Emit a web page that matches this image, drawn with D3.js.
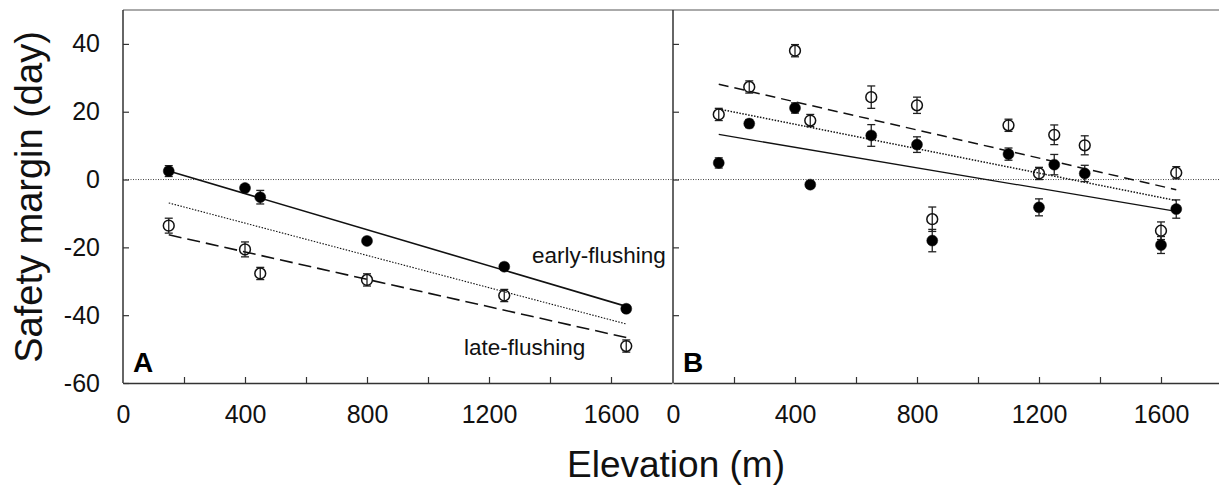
<!DOCTYPE html>
<html><head><meta charset="utf-8">
<script src="https://cdn.jsdelivr.net/npm/d3@7"></script>
<style>
html,body{margin:0;padding:0;background:#fff;}
svg{display:block;font-family:"Liberation Sans",Arial,Helvetica,sans-serif;}
</style></head>
<body>
<svg id="chart" width="1219" height="486"></svg>
<script>
// ---------- data ----------
const yTicks = [-60, -40, -20, 0, 20, 40];
const yTickLabels = ["-60", "-40", "-20", "0", "20", "40"];
const xTicks = [0, 200, 400, 600, 800, 1000, 1200, 1400, 1600];
const xLabelTicks = [0, 400, 800, 1200, 1600];

// Panel A
const elevA = [150, 400, 450, 800, 1250, 1650];
const earlyA = [2.5, -2.5, -5.2, -18.1, -25.7, -38.1];
const earlyAErr = [1.6, 1.0, 2.0, 1.0, 1.0, 1.0];
const lateA = [-13.6, -20.6, -27.7, -29.6, -34.2, -49.1];
const lateAErr = [2.2, 2.2, 1.8, 1.8, 1.8, 1.8];

// Panel B
const elevB = [150, 250, 400, 450, 650, 800, 850, 1100, 1200, 1250, 1350, 1600, 1650];
const earlyB = [4.9, 16.5, 21.1, -1.5, 13.0, 10.3, -18.0, 7.5, -8.2, 4.4, 1.8, -19.3, -8.7];
const earlyBErr = [1.5, 1.2, 1.5, 1.0, 3.2, 2.3, 3.3, 1.8, 2.5, 3.0, 2.4, 2.5, 2.7];
const lateB = [19.2, 27.3, 38.0, 17.4, 24.3, 21.9, -11.7, 16.0, 1.8, 13.2, 10.1, -15.1, 2.0];
const lateBErr = [1.8, 1.8, 1.8, 1.8, 3.3, 2.4, 3.6, 1.8, 1.8, 2.9, 2.8, 2.6, 1.8];

// Regression fits (values at start and end elevation)
const fitElev = [150, 1650];
const fitEarlyA = [2.5, -37.4];
const fitMeanA = [-6.9, -42.6];
const fitLateA = [-16.3, -46.6];
const fitEarlyB = [13.3, -9.4];
const fitMeanB = [20.8, -6.2];
const fitLateB = [28.1, -3.0];

// ---------- layout ----------
const svg = d3.select("#chart");
const topY = 10, bottomY = 383;
const y = d3.scaleLinear().domain([-60, 50]).range([bottomY, topY]);
const xA = d3.scaleLinear().domain([0, 1800]).range([123, 672]);
const xB = d3.scaleLinear().domain([0, 1800]).range([673, 1222]);
const axisColor = "#333";

// top border
svg.append("line").attr("x1", xA(0)).attr("x2", 1219).attr("y1", topY).attr("y2", topY)
  .attr("stroke", "#aaa").attr("stroke-width", 2);

// zero line
svg.append("line").attr("x1", xA(0)).attr("x2", xB(1800)).attr("y1", y(0)).attr("y2", y(0))
  .attr("stroke", "#444").attr("stroke-width", 1).attr("stroke-dasharray", "1,1.5");

function styleAxis(g) {
  g.selectAll("path.domain").attr("stroke", axisColor).attr("stroke-width", 1.5);
  g.selectAll(".tick line").attr("stroke", axisColor).attr("stroke-width", 1.2);
  g.selectAll(".tick text").attr("fill", "#111").style("font-size", "25px")
    .style("font-family", "'Liberation Sans',Arial,sans-serif");
}

// y axes
const gyA = svg.append("g").attr("transform", `translate(${xA(0)},0)`)
  .call(d3.axisLeft(y).tickValues(yTicks).tickSize(-6).tickSizeOuter(0).tickPadding(23)
    .tickFormat((d, i) => yTickLabels[i]));
gyA.select("path.domain").attr("d", `M0,${topY}V${bottomY}`);
styleAxis(gyA);
const gyB = svg.append("g").attr("transform", `translate(${xB(0)},0)`)
  .call(d3.axisLeft(y).tickValues(yTicks.filter(d => d > -60)).tickSize(-6).tickSizeOuter(0).tickFormat(""));
gyB.select("path.domain").attr("d", `M0,${topY}V${bottomY}`);
styleAxis(gyB);

// x axes
function xAxis(scale) {
  const g = svg.append("g").attr("transform", `translate(0,${bottomY})`)
    .call(d3.axisBottom(scale).tickValues(xTicks).tickSize(-6).tickSizeOuter(0).tickPadding(22)
      .tickFormat(d => xLabelTicks.includes(d) ? String(d) : ""));
  g.selectAll(".tick").filter(d => d === 0).select("line").remove();
  styleAxis(g);
  return g;
}
xAxis(xA);
xAxis(xB);

// regression lines
const line = (xs) => d3.line().x(d => xs(d[0])).y(d => y(d[1]));
function fit(xs, vals, dash, width) {
  svg.append("path").datum(fitElev.map((e, i) => [e, vals[i]]))
    .attr("d", line(xs)).attr("fill", "none").attr("stroke", "#111")
    .attr("stroke-width", width).attr("stroke-dasharray", dash);
}
fit(xA, fitEarlyA, null, 1.6);
fit(xA, fitMeanA, "1.5,1.5", 1.1);
fit(xA, fitLateA, "13,6", 1.6);
fit(xB, fitEarlyB, null, 1.3);
fit(xB, fitMeanB, "1.5,1.5", 1.5);
fit(xB, fitLateB, "10,6", 1.5);

// points with error bars
function points(xs, elev, vals, errs, filled) {
  const g = svg.append("g");
  const data = elev.map((e, i) => ({ e, v: vals[i], s: errs[i] }));
  const cap = 4;
  const eb = g.selectAll("g.eb").data(data).enter().append("g")
    .attr("stroke", "#222").attr("stroke-width", 1.3);
  eb.append("line").attr("x1", d => xs(d.e)).attr("x2", d => xs(d.e))
    .attr("y1", d => y(d.v + d.s)).attr("y2", d => y(d.v - d.s));
  eb.append("line").attr("x1", d => xs(d.e) - cap).attr("x2", d => xs(d.e) + cap)
    .attr("y1", d => y(d.v + d.s)).attr("y2", d => y(d.v + d.s));
  eb.append("line").attr("x1", d => xs(d.e) - cap).attr("x2", d => xs(d.e) + cap)
    .attr("y1", d => y(d.v - d.s)).attr("y2", d => y(d.v - d.s));
  g.selectAll("circle").data(data).enter().append("circle")
    .attr("cx", d => xs(d.e)).attr("cy", d => y(d.v))
    .attr("r", filled ? 5.5 : 5.4)
    .attr("fill", filled ? "#000" : "none")
    .attr("stroke", "#111").attr("stroke-width", filled ? 0.5 : 1.5);
}
points(xA, elevA, lateA, lateAErr, false);
points(xA, elevA, earlyA, earlyAErr, true);
points(xB, elevB, lateB, lateBErr, false);
points(xB, elevB, earlyB, earlyBErr, true);

// annotations
svg.append("text").attr("x", 532).attr("y", 263).text("early-flushing")
  .style("font-size", "22.5px").attr("fill", "#111");
svg.append("text").attr("x", 464).attr("y", 355).text("late-flushing")
  .style("font-size", "22.5px").attr("fill", "#111");
svg.append("text").attr("x", 133).attr("y", 372).text("A")
  .style("font-size", "28px").style("font-weight", "bold").attr("fill", "#000");
svg.append("text").attr("x", 683).attr("y", 372).text("B")
  .style("font-size", "28px").style("font-weight", "bold").attr("fill", "#000");

// axis titles
svg.append("text").attr("transform", "translate(42,197) rotate(-90)")
  .attr("text-anchor", "middle").text("Safety margin (day)")
  .style("font-size", "38px").attr("fill", "#111");
svg.append("text").attr("x", 676).attr("y", 477).attr("text-anchor", "middle")
  .text("Elevation (m)").style("font-size", "37px").attr("fill", "#111");
</script>
</body></html>
